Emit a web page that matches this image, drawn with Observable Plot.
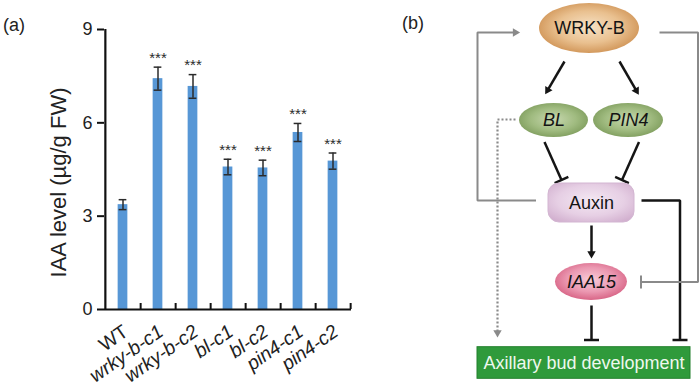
<!DOCTYPE html>
<html>
<head>
<meta charset="utf-8">
<script src="https://cdn.jsdelivr.net/npm/d3@7"></script>
<script src="https://cdn.jsdelivr.net/npm/@observablehq/plot@0.6"></script>
<style>
  html, body { margin: 0; padding: 0; background: #fff; }
  #wrap { position: relative; width: 700px; height: 390px; overflow: hidden;
          font-family: "Liberation Sans", Arial, Helvetica, sans-serif; color: #222; }
  #pa { position: absolute; left: 0; top: 0; }
  #pb { position: absolute; left: 370px; top: 0; }
  .tag { position: absolute; font-size: 18px; color: #222; }
</style>
</head>
<body>
<div id="wrap">
  <div id="pa"></div>
  <div id="pb"></div>
  <div class="tag" style="left:3px; top:15px;">(a)</div>
  <div class="tag" style="left:402px; top:13px;">(b)</div>
</div>
<script>
// ---------------- Panel (a) data ----------------
const categories = ["WT", "wrky-b-c1", "wrky-b-c2", "bl-c1", "bl-c2", "pin4-c1", "pin4-c2"];
const iaaMean = [3.37, 7.42, 7.17, 4.58, 4.55, 5.69, 4.77];
const iaaErr  = [0.16, 0.37, 0.38, 0.25, 0.25, 0.29, 0.26];
const significance = ["", "***", "***", "***", "***", "***", "***"];
const yTicks = [0, 3, 6, 9];
const yLabel = "IAA level (µg/g FW)";

// ---------------- Panel (b) data ----------------
const nodeLabels = ["WRKY-B", "BL", "PIN4", "Auxin", "IAA15", "Axillary bud development"];
const nodeItalic = [false, true, true, false, true, false];
const nodeKind   = ["wrky", "gene", "gene", "hormone", "iaa", "phenotype"];

const edgeNames  = ["WRKY-B→BL", "WRKY-B→PIN4", "BL⊣Auxin", "PIN4⊣Auxin", "Auxin→IAA15",
                    "IAA15⊣bud", "Auxin⊣bud", "Auxin→WRKY-B", "WRKY-B⊣IAA15", "BL⇢bud"];
const edgeEffect = ["promote", "promote", "inhibit", "inhibit", "promote",
                    "inhibit", "inhibit", "promote", "inhibit", "promote"];
const edgeTone   = ["main", "main", "main", "main", "main", "main", "main", "feedback", "feedback", "putative"];

// ---------------- Diagram layout (figure pixels) ----------------
const nodeCenterX = [589, 553.5, 628, 591, 591, 583.5];
const nodeCenterY = [28, 120, 120, 202.5, 281.5, 362.5];
const nodeHalfW   = [50, 34.5, 35, 43, 36, 106.5];
const nodeHalfH   = [25, 17, 17, 19.5, 18.5, 15.8];
const edgePaths = [
  [[564, 61], [544, 95]],
  [[619, 61], [639, 95.5]],
  [[544, 141.5], [561, 179.5]],
  [[638.5, 141.5], [621.5, 179.5]],
  [[591, 225], [591, 259.5]],
  [[591, 305], [591, 339.5]],
  [[641, 200], [679.5, 200], [679.5, 339.5]],
  [[535.5, 200], [477, 200], [477, 32], [521, 32]],
  [[659, 32], [697.5, 32], [697.5, 281.5], [640.5, 281.5]],
  [[515, 119], [497, 119], [497, 338.5]]
];

// ---------------- Styles ----------------
const FONT = '"Liberation Sans", Arial, Helvetica, sans-serif';
const barColor = "#5797d6";
const inkColor = "#2b2b2b";
const toneColor = {main: "#151515", feedback: "#8a8a8a", putative: "#8a8a8a"};
const toneWidth = {main: 2.5, feedback: 2, putative: 2.2};
const kindFill = {wrky: "url(#g-wrky)", gene: "url(#g-gene)", hormone: "url(#g-hormone)",
                  iaa: "url(#g-iaa)", phenotype: "#2f9a3b"};

// ================= Panel (a) =================
const rows = categories.map((name, i) => ({name, mean: iaaMean[i], err: iaaErr[i], sig: significance[i]}));
const plotW = 370, left = 104, right = 19;
const step = (plotW - left - right) / categories.length;
const barW = 10, capW = 8;

const plotA = Plot.plot({
  width: plotW, height: 390,
  marginLeft: left, marginRight: right, marginTop: 29, marginBottom: 81,
  style: {fontFamily: FONT, fontSize: "18px", color: "#222", background: "transparent", overflow: "visible"},
  x: {domain: categories, padding: 0, axis: null},
  y: {domain: [0, 9], axis: null},
  marks: [
    Plot.barY(rows, {x: "name", y: "mean", fill: barColor,
      insetLeft: (step - barW) / 2, insetRight: (step - barW) / 2}),
    Plot.ruleX(rows, {x: "name", y1: d => d.mean - d.err, y2: d => d.mean + d.err, stroke: inkColor, strokeWidth: 1.5}),
    Plot.tickY(rows, {x: "name", y: d => d.mean + d.err, stroke: inkColor, strokeWidth: 1.5,
      insetLeft: (step - capW) / 2, insetRight: (step - capW) / 2}),
    Plot.tickY(rows, {x: "name", y: d => d.mean - d.err, stroke: inkColor, strokeWidth: 1.5,
      insetLeft: (step - capW) / 2, insetRight: (step - capW) / 2}),
    Plot.text(rows.filter(d => d.sig), {x: "name", y: d => d.mean + d.err, text: "sig",
      dy: -9, fontSize: 15, fill: inkColor}),
    // y axis
    Plot.ruleX([categories[0]], {x: d => d, dx: -step / 2, y1: 0, y2: 9, stroke: "#111", strokeWidth: 2.2}),
    Plot.axisY(yTicks, {anchor: "left", label: null, tickSize: 7, tickPadding: 5, fontSize: 18,
      stroke: "#111", strokeWidth: 2, fill: "#222"}),
    Plot.text([yLabel], {frameAnchor: "left", textAnchor: "middle", dx: -46, dy: 13, rotate: -90,
      fontSize: 22, fill: "#222"}),
    // x axis
    Plot.ruleY([0], {stroke: "#111", strokeWidth: 2.2}),
    Plot.ruleX(categories, {x: d => d, dx: step / 2, y1: 0, y2: 6 / 31.1, stroke: "#111", strokeWidth: 2}),
    Plot.text(categories.filter(d => d === "WT"), {x: d => d, y: 0, text: d => d, dx: 3, dy: 20,
      rotate: -35, textAnchor: "end", fontSize: 19.5, fill: "#222"}),
    Plot.text(categories.filter(d => d !== "WT"), {x: d => d, y: 0, text: d => d, dx: 3, dy: 20,
      rotate: -35, textAnchor: "end", fontSize: 19.5, fontStyle: "italic", fill: "#222"})
  ]
});
document.getElementById("pa").appendChild(plotA);

// ================= Panel (b) =================
const nodes = nodeLabels.map((label, i) => ({
  label, italic: nodeItalic[i], kind: nodeKind[i],
  cx: nodeCenterX[i], cy: nodeCenterY[i], hw: nodeHalfW[i], hh: nodeHalfH[i],
  fill: kindFill[nodeKind[i]]
}));

const HEAD_R = 4;
const headTip = 2 * Math.sqrt(Math.PI * HEAD_R * HEAD_R / (3 * Math.sqrt(3)));
const linePts = [], heads = [], bars = [];
edgeNames.forEach((id, i) => {
  const pts = edgePaths[i].map(p => p.slice());
  const n = pts.length;
  const [x0, y0] = pts[n - 2], [x1, y1] = pts[n - 1];
  const len = Math.hypot(x1 - x0, y1 - y0);
  const ux = (x1 - x0) / len, uy = (y1 - y0) / len;
  const tone = edgeTone[i];
  const color = toneColor[tone];
  if (edgeEffect[i] === "promote") {
    heads.push({x: x1 - ux * headTip, y: y1 - uy * headTip,
      angle: Math.atan2(uy, ux) * 180 / Math.PI + 90, color});
    pts[n - 1] = [x1 - ux * (headTip - 0.5), y1 - uy * (headTip - 0.5)];
  } else {
    const half = tone === "main" ? 7.5 : 6.5;
    bars.push({x1: x1 - uy * half, y1: y1 + ux * half, x2: x1 + uy * half, y2: y1 - ux * half,
      color, w: toneWidth[tone]});
  }
  pts.forEach(([x, y]) => linePts.push({id, x, y, color, tone}));
});

const plotB = Plot.plot({
  width: 330, height: 390, margin: 0,
  style: {fontFamily: FONT, fontSize: "18px", background: "transparent", overflow: "visible"},
  x: {domain: [370, 700], range: [0, 330], axis: null},
  y: {domain: [0, 390], range: [0, 390], axis: null},
  color: {type: "identity"},
  marks: [
    Plot.line(linePts.filter(d => d.tone === "main"), {x: "x", y: "y", z: "id", stroke: "color",
      strokeWidth: toneWidth.main, strokeLinejoin: "miter", strokeLinecap: "butt"}),
    Plot.line(linePts.filter(d => d.tone === "feedback"), {x: "x", y: "y", z: "id", stroke: "color",
      strokeWidth: toneWidth.feedback, strokeLinejoin: "miter", strokeLinecap: "butt"}),
    Plot.line(linePts.filter(d => d.tone === "putative"), {x: "x", y: "y", z: "id", stroke: "color",
      strokeWidth: toneWidth.putative, strokeDasharray: "2,2", strokeLinejoin: "miter", strokeLinecap: "butt"}),
    Plot.link(bars, {x1: "x1", y1: "y1", x2: "x2", y2: "y2", stroke: "color", strokeWidth: "w"}),
    Plot.dot(heads, {x: "x", y: "y", r: HEAD_R, symbol: "triangle2", rotate: "angle", fill: "color", stroke: "none"}),
    // nodes
    Plot.rect(nodes.filter(d => ["wrky", "gene", "iaa"].includes(d.kind)), {
      x1: d => d.cx - d.hw, x2: d => d.cx + d.hw, y1: d => d.cy - d.hh, y2: d => d.cy + d.hh,
      fill: "fill", rx: 999, ry: 999}),
    Plot.rect(nodes.filter(d => d.kind === "hormone"), {
      x1: d => d.cx - d.hw, x2: d => d.cx + d.hw, y1: d => d.cy - d.hh, y2: d => d.cy + d.hh,
      fill: "fill", rx: 11, ry: 11, stroke: "#d3b6d2", strokeWidth: 1}),
    Plot.rect(nodes.filter(d => d.kind === "phenotype"), {
      x1: d => d.cx - d.hw, x2: d => d.cx + d.hw, y1: d => d.cy - d.hh, y2: d => d.cy + d.hh,
      fill: "fill", stroke: "#23802d", strokeWidth: 1}),
    Plot.text(nodes.filter(d => !d.italic && d.kind !== "phenotype"), {x: "cx", y: "cy", text: "label",
      fontSize: 18, fill: "#141414"}),
    Plot.text(nodes.filter(d => d.italic), {x: "cx", y: "cy", text: "label",
      fontSize: 18, fontStyle: "italic", fill: "#141414"}),
    Plot.text(nodes.filter(d => d.kind === "phenotype"), {x: "cx", y: "cy", text: "label",
      fontSize: 18, fill: "#eef8ee"})
  ]
});
plotB.insertAdjacentHTML("afterbegin", `<defs>
  <radialGradient id="g-wrky" cx="50%" cy="48%" r="58%">
    <stop offset="0%" stop-color="#f7e2c6"/><stop offset="55%" stop-color="#e9c08f"/><stop offset="100%" stop-color="#cc8d4d"/>
  </radialGradient>
  <radialGradient id="g-gene" cx="50%" cy="48%" r="60%">
    <stop offset="0%" stop-color="#c8d8b0"/><stop offset="55%" stop-color="#a0bb80"/><stop offset="100%" stop-color="#779655"/>
  </radialGradient>
  <radialGradient id="g-hormone" cx="50%" cy="45%" r="65%">
    <stop offset="0%" stop-color="#f4e8f3"/><stop offset="60%" stop-color="#e6cfe4"/><stop offset="100%" stop-color="#d2b0cf"/>
  </radialGradient>
  <radialGradient id="g-iaa" cx="50%" cy="45%" r="60%">
    <stop offset="0%" stop-color="#f8cbd8"/><stop offset="55%" stop-color="#eb98b1"/><stop offset="100%" stop-color="#d45a7d"/>
  </radialGradient>
</defs>`);
document.getElementById("pb").appendChild(plotB);
</script>
</body>
</html>
